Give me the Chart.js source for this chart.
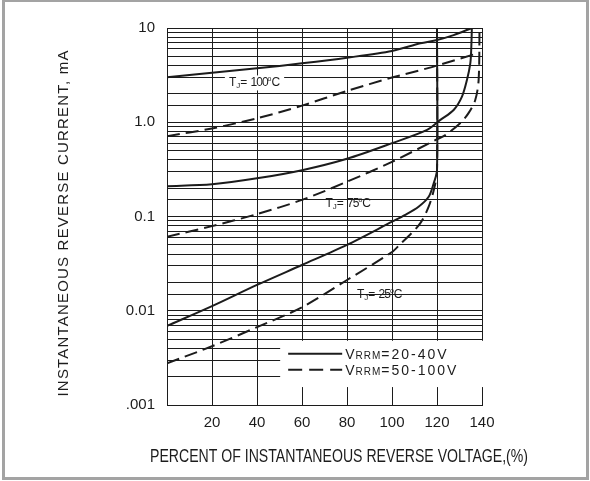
<!DOCTYPE html>
<html>
<head>
<meta charset="utf-8">
<script src="https://cdn.jsdelivr.net/npm/chart.js@4.4.0/dist/chart.umd.min.js"></script>
<style>
  html, body { margin: 0; padding: 0; background: #fff; }
  #wrap { position: relative; width: 590px; height: 481px; }
</style>
</head>
<body>
<div id="wrap"><canvas id="chart" width="590" height="481"></canvas></div>
<script>
// axis ticks
const xTickValues = [0, 20, 40, 60, 80, 100, 120, 140];
const xTickLabels = ['', '20', '40', '60', '80', '100', '120', '140'];
const yTickValues = [0.001, 0.01, 0.1, 1, 10];
const yTickLabels = ['.001', '0.01', '0.1', '1.0', '10'];

// TJ = 100°C
const hot20X = [0, 20, 40, 60, 80, 100, 112.6, 120, 127.4, 135.5];
const hot20Y = [3.0, 3.36, 3.73, 4.22, 4.84, 5.7, 6.88, 7.46, 8.4, 10];
const hot50X = [0, 20, 40, 60, 80, 100, 115.6, 120, 137];
const hot50Y = [0.71, 0.86, 1.1, 1.5, 2.15, 2.98, 3.73, 4.0, 5.3];

// TJ = 75°C
const warm20X = [0, 20, 40, 60, 80, 100, 115.6, 121.5, 127.4, 131.1, 133.3, 134.8, 135.2, 135.5];
const warm20Y = [0.21, 0.22, 0.254, 0.31, 0.41, 0.6, 0.83, 1.06, 1.35, 1.87, 2.8, 4.22, 5.85, 10];
const warm50X = [0, 20, 40, 60, 80, 100, 120, 123.7, 130.4, 134, 137, 138.5, 138.9];
const warm50Y = [0.061, 0.079, 0.106, 0.15, 0.234, 0.38, 0.66, 0.73, 0.98, 1.25, 1.72, 2.8, 10];

// TJ = 25°C
const cool20X = [0, 20, 40, 60, 80, 100, 105.9, 111.8, 116.3, 118.5, 120, 120];
const cool20Y = [0.0069, 0.0112, 0.0188, 0.0306, 0.05, 0.088, 0.104, 0.127, 0.162, 0.224, 0.31, 10];
const cool50X = [0, 20, 40, 60, 80, 100, 104, 108, 112.6, 116.3, 118.8, 120, 120];
const cool50Y = [0.00277, 0.0042, 0.0067, 0.0109, 0.0212, 0.042, 0.052, 0.064, 0.085, 0.127, 0.2, 0.3, 10];

const legendLabels = [['V', 'RRM', '=20-40V'], ['V', 'RRM', '=50-100V']];
const tempLabels = ['100', '75', '25'];

const FONT = '"Liberation Sans", Arial, sans-serif';
const INK = '#1c1c1c';
const DASH = [13, 6];

function pts(xs, ys) {
  return xs.map((x, i) => ({ x: x, y: ys[i] }));
}

function curve(xs, ys, dashed) {
  return {
    data: pts(xs, ys),
    borderColor: INK,
    borderWidth: 2,
    borderDash: dashed ? DASH : [],
    pointRadius: 0,
    tension: 0.3,
    fill: false
  };
}

function drawTJ(ctx, x, y, temp, clear) {
  const parts = [
    ['T', '12px ' + FONT, 0, '0px'],
    ['J', '8px ' + FONT, 2, '0px'],
    ['= ', '12px ' + FONT, 0, '0px'],
    [temp, '12px ' + FONT, 0, '-1px'],
    ['o', '7px ' + FONT, -5, '0px'],
    ['C', '12px ' + FONT, 0, '0px']
  ];
  let w = 0;
  parts.forEach(p => { ctx.font = p[1]; ctx.letterSpacing = p[3]; w += ctx.measureText(p[0]).width; });
  if (clear) {
    ctx.fillStyle = '#fff';
    ctx.fillRect(x - 4, y - 11, w + 8, 15);
  }
  ctx.fillStyle = INK;
  ctx.textBaseline = 'alphabetic';
  ctx.textAlign = 'left';
  let cx = x;
  parts.forEach(p => {
    ctx.font = p[1];
    ctx.letterSpacing = p[3];
    ctx.fillText(p[0], cx, y + p[2]);
    cx += ctx.measureText(p[0]).width;
  });
  ctx.letterSpacing = '0px';
}

// stretch by scaling (condensed look)
function fitText(ctx, text, cx, cy, width, rot) {
  ctx.save();
  ctx.translate(cx, cy);
  ctx.rotate(rot);
  const w = ctx.measureText(text).width;
  ctx.scale(width / w, 1);
  ctx.textAlign = 'center';
  ctx.textBaseline = 'middle';
  ctx.fillText(text, 0, 0);
  ctx.restore();
}

// stretch by letter spacing (normal glyphs)
function spreadText(ctx, text, cx, cy, width, rot) {
  ctx.save();
  ctx.translate(cx, cy);
  ctx.rotate(rot);
  ctx.letterSpacing = '0px';
  const w = ctx.measureText(text).width;
  const sp = (width - w) / text.length;
  ctx.letterSpacing = sp.toFixed(2) + 'px';
  ctx.textAlign = 'left';
  ctx.textBaseline = 'middle';
  ctx.fillText(text, -width / 2, 0);
  ctx.letterSpacing = '0px';
  ctx.restore();
}

const decorations = {
  id: 'decorations',
  beforeDraw(chart) {
    const ctx = chart.ctx;
    ctx.save();
    ctx.strokeStyle = '#a3a3a3';
    ctx.lineWidth = 3;
    ctx.strokeRect(3.5, 0.5, 584, 478);
    ctx.restore();
  },
  afterDatasetsDraw(chart) {
    const ctx = chart.ctx;
    const xs = chart.scales.x, ys = chart.scales.y;
    ctx.save();

    // temperature labels
    drawTJ(ctx, xs.getPixelForValue(27.5), ys.getPixelForValue(2.4), tempLabels[0], true);
    drawTJ(ctx, xs.getPixelForValue(70.4), ys.getPixelForValue(0.126), tempLabels[1], false);
    drawTJ(ctx, xs.getPixelForValue(84.4), ys.getPixelForValue(0.0136), tempLabels[2], false);

    // legend box over the grid
    const lx = xs.getPixelForValue(50.3);
    const top = ys.getPixelForValue(0.0048);
    const bot = ys.getPixelForValue(0.00155);
    ctx.fillStyle = '#fff';
    ctx.fillRect(lx, top, xs.right + 2 - lx, bot - top);

    const rows = [top + 13, top + 29];
    rows.forEach((ry, i) => {
      ctx.strokeStyle = INK;
      ctx.lineWidth = 2;
      ctx.setLineDash(i === 0 ? [] : [14, 7]);
      ctx.beginPath();
      ctx.moveTo(lx + 8, ry);
      ctx.lineTo(lx + 62, ry);
      ctx.stroke();
      ctx.setLineDash([]);
      const lab = legendLabels[i];
      let tx = lx + 65;
      ctx.fillStyle = INK;
      ctx.textBaseline = 'alphabetic';
      ctx.textAlign = 'left';
      ctx.font = '14px ' + FONT;
      ctx.letterSpacing = '0px';
      ctx.fillText(lab[0], tx, ry + 5);
      tx += ctx.measureText(lab[0]).width + 1;
      ctx.font = '10px ' + FONT;
      ctx.letterSpacing = '1px';
      ctx.fillText(lab[1], tx, ry + 5);
      tx += ctx.measureText(lab[1]).width;
      ctx.font = '14px ' + FONT;
      ctx.letterSpacing = '2px';
      ctx.fillText(lab[2], tx, ry + 5);
      ctx.letterSpacing = '0px';
    });

    // axis titles
    ctx.fillStyle = INK;
    ctx.font = '15px ' + FONT;
    spreadText(ctx, 'INSTANTANEOUS REVERSE CURRENT, mA', 64, 223, 347, -Math.PI / 2);
    ctx.font = '18px ' + FONT;
    fitText(ctx, 'PERCENT OF INSTANTANEOUS REVERSE VOLTAGE,(%)', 339, 457, 378, 0);
    ctx.restore();
  }
};

new Chart(document.getElementById('chart'), {
  type: 'line',
  data: {
    datasets: [
      curve(hot20X, hot20Y, false),
      curve(hot50X, hot50Y, true),
      curve(warm20X, warm20Y, false),
      curve(warm50X, warm50Y, true),
      curve(cool20X, cool20Y, false),
      curve(cool50X, cool50Y, true)
    ]
  },
  options: {
    responsive: false,
    animation: false,
    devicePixelRatio: 1,
    layout: { padding: { top: 28, right: 108, left: 0, bottom: 0 } },
    plugins: { legend: { display: false }, tooltip: { enabled: false } },
    scales: {
      x: {
        type: 'linear',
        min: 0,
        max: 140,
        afterFit: s => { s.height = 76; },
        afterBuildTicks: s => { s.ticks = xTickValues.map(v => ({ value: v })); },
        grid: { color: INK, lineWidth: 1, drawTicks: false },
        border: { color: INK, width: 1 },
        ticks: {
          padding: 9,
          color: INK,
          font: { family: FONT, size: 15 },
          maxRotation: 0,
          autoSkip: false,
          callback: (v) => xTickLabels[xTickValues.indexOf(v)] ?? ''
        }
      },
      y: {
        type: 'logarithmic',
        min: 0.001,
        max: 10,
        afterFit: s => { s.width = 167; },
        grid: { color: INK, lineWidth: 1, drawTicks: false },
        border: { color: INK, width: 1 },
        ticks: {
          padding: 12,
          color: INK,
          font: { family: FONT, size: 15 },
          autoSkip: false,
          callback: (v) => {
            const i = yTickValues.findIndex(t => Math.abs(Math.log10(t) - Math.log10(v)) < 1e-6);
            return i >= 0 ? yTickLabels[i] : '';
          }
        }
      }
    }
  },
  plugins: [decorations]
});
</script>
</body>
</html>
